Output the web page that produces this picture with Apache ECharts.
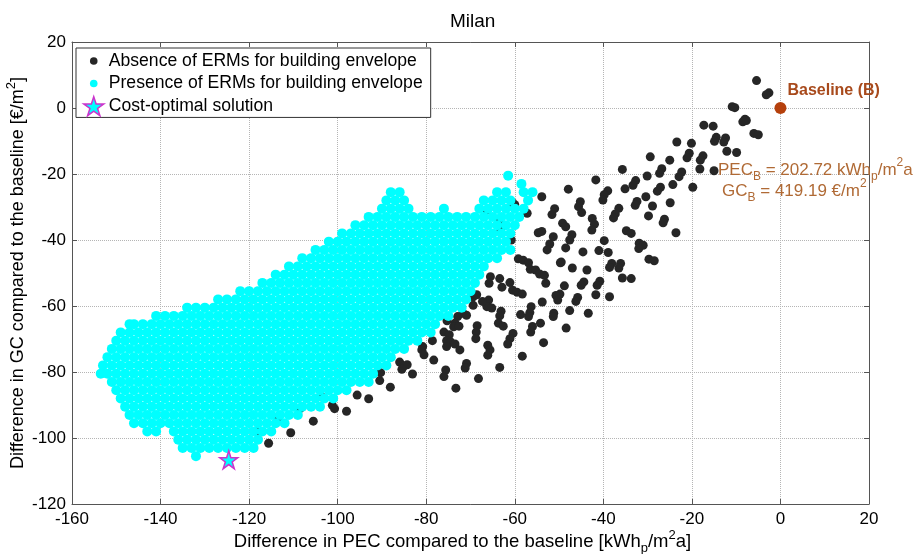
<!DOCTYPE html>
<html><head><meta charset="utf-8">
<script src="https://cdn.jsdelivr.net/npm/echarts@6/dist/echarts.min.js"></script>
<style>html,body{margin:0;padding:0;background:#fff}#c{width:917px;height:554px}</style>
</head><body><div id="c"></div>
<script>
// ---- data ----
const titleText = 'Milan';
const xTickMin = -160, xTickMax = 20, xTickStep = 20;
const yTickMin = -120, yTickMax = 20, yTickStep = 20;

const absencePoints = [
[-5.4,8.3],[-2.6,4.6],[-3.2,4.0],[-10.9,0.4],[-10.3,0.1],[-8.0,-3.4],[-8.5,-4.2],[-7.7,-3.8],[-6.0,-7.7],[-5.0,-8.1],
[-17.3,-5.2],[-15.2,-5.5],[-23.4,-10.3],[-20.1,-10.7],[-14.5,-8.9],[-14.9,-10.1],[-12.4,-9.1],[-12.8,-10.3],[-12.1,-13.1],[-9.9,-13.5],
[-20.6,-13.7],[-21.1,-15.1],[-17.5,-14.5],[-18.1,-15.8],[-29.4,-14.8],[-25.0,-15.8],[-18.2,-18.5],[-15.0,-19.0],[-35.7,-18.6],[-26.8,-18.4],
[-27.3,-19.8],[-30.1,-20.6],[-22.3,-19.4],[-22.9,-20.8],[-32.7,-22.0],[-33.3,-23.4],[-35.1,-24.5],[-24.3,-23.2],[-19.8,-24.0],[-27.1,-24.0],
[-27.8,-25.2],[-39.0,-25.1],[-39.8,-26.3],[-40.1,-27.9],[-30.4,-26.9],[-32.4,-28.3],[-32.8,-29.5],[-28.9,-29.7],[-24.9,-28.7],[-36.5,-30.4],
[-37.3,-32.1],[-37.7,-33.3],[-29.8,-32.7],[-26.2,-33.7],[-26.5,-34.8],[-34.8,-37.2],[-33.7,-38.0],[-23.6,-37.8],[-31.9,-41.0],[-31.0,-41.6],
[-32.0,-42.6],[-39.8,-40.2],
[-41.7,-21.8],[-47.9,-24.6],[-45.2,-28.4],[-45.6,-29.9],[-44.9,-31.7],[-42.5,-33.5],[-42.0,-35.2],[-42.6,-37.0],[-49.2,-34.9],[-48.5,-36.0],
[-47.1,-38.4],[-47.6,-40.0],[-48.5,-42.4],[-44.6,-43.6],[-41.0,-43.2],[-38.9,-43.8],[-29.7,-45.8],[-28.5,-46.3],[-49.5,-46.7],[-38.1,-47.1],
[-38.6,-48.3],[-36.1,-47.1],[-36.5,-48.5],[-47.0,-48.5],[-43.7,-49.1],[-35.7,-51.5],[-33.7,-51.7],[-40.8,-52.5],[-41.4,-53.7],[-44.4,-52.7],
[-45.0,-53.7],[-48.8,-53.9],[-41.7,-56.6],[-38.6,-57.2],[-45.8,-57.4],[-46.2,-58.6],[-49.8,-56.4],[-47.6,-61.4],[-43.4,-62.2],
[-53.9,-26.9],[-51.0,-30.5],[-51.6,-32.3],[-57.2,-31.9],[-54.7,-37.8],[-53.9,-37.4],[-51.3,-39.0],[-52.1,-41.2],[-52.7,-43.0],[-60.8,-40.0],
[-59.2,-45.7],[-58.1,-46.1],[-56.9,-46.9],[-56.5,-48.9],[-55.3,-49.1],[-54.4,-50.3],[-53.3,-50.7],[-49.7,-46.9],[-53.0,-53.1],[-65.5,-51.1],
[-65.8,-53.1],[-63.4,-51.7],[-62.9,-54.3],[-61.1,-52.9],[-60.5,-55.2],[-59.5,-55.8],[-58.3,-56.4],[-69.4,-57.2],[-68.6,-56.6],[-65.9,-58.2],
[-66.3,-60.2],[-65.2,-60.6],[-63.1,-61.6],[-63.4,-63.0],[-63.7,-65.2],[-58.7,-62.6],[-56.3,-60.2],[-56.6,-62.0],[-56.9,-63.2],[-53.8,-58.8],
[-50.7,-56.8],[-50.3,-58.2],[-51.2,-62.2],[-51.3,-63.2],[-71.7,-62.2],[-70.9,-62.8],[-72.9,-63.2],[-73.5,-65.2],[-73.8,-66.3],[-75.3,-64.5],
[-68.5,-66.0],[-62.6,-66.1],[-54.2,-65.2],[-48.4,-66.7],[-66.3,-30.9],[-63.4,-33.9],[-63.2,-36.8],[-60.5,-28.7],[-60.0,-29.3],[-69.4,-59.8],
[-67.3,-58.6],[-56.0,-66.2],[-56.4,-67.9],[-60.4,-68.3],[-61.1,-69.9],[-61.6,-71.5],[-53.5,-71.1],[-58.3,-75.2],[-63.4,-78.6],[-66.1,-71.9],
[-65.6,-73.3],[-66.1,-74.9],[-68.2,-82.0],
[-72.6,-66.1],[-76.0,-67.9],[-74.8,-68.7],[-75.4,-70.5],[-74.5,-70.9],[-75.4,-72.3],[-68.7,-67.9],[-68.8,-69.9],[-78.6,-70.5],[-73.5,-71.5],
[-72.4,-73.3],[-80.8,-72.3],[-81.0,-73.3],[-80.5,-74.8],[-78.3,-76.4],[-70.9,-77.4],[-71.2,-78.8],[-75.6,-79.4],[-76.0,-81.4],[-73.3,-84.9],
[-86.0,-77.0],[-85.1,-78.2],[-84.3,-77.8],[-85.5,-79.2],[-83.1,-80.6],[-90.5,-82.6],[-88.1,-84.6],[-93.0,-88.1],[-95.6,-87.0],[-98.0,-91.9],
[-100.7,-91.1],[-105.5,-94.9],[-90.3,-80.2],[-101.2,-90.1],[-110.6,-98.4],[-115.6,-101.6],[-118.5,-98.0],[-113.5,-94.8],[-108.5,-91.1],[-103.4,-87.7]
];

// Presence of ERMs: rows of the dense cloud, [y, list of x values]
const presenceRows = [
[-105.5,[-132]],
[-103,[-135,-133,-131,-129,-127,-125,-123,-121,-119]],
[-100.5,[-136,-134,-132,-130,-128,-126,-124,-122,-120,-118]],
[-98,[-143,-141,-137,-135,-133,-131,-129,-127,-125,-123,-121,-119,-117,-115]],
[-95.5,[-146,-144,-142,-140,-138,-136,-134,-132,-130,-128,-126,-124,-122,-120,-118,-116,-114,-112]],
[-93,[-147,-145,-143,-141,-139,-137,-135,-133,-131,-129,-127,-125,-123,-121,-119,-117,-115,-113,-111,-109]],
[-90.5,[-148,-146,-144,-142,-140,-138,-136,-134,-132,-130,-128,-126,-124,-122,-120,-118,-116,-114,-112,-110,-108,-106,-104]],
[-88,[-149,-147,-145,-143,-141,-139,-137,-135,-133,-131,-129,-127,-125,-123,-121,-119,-117,-115,-113,-111,-109,-107,-105,-103,-101]],
[-85.5,[-150,-148,-146,-144,-142,-140,-138,-136,-134,-132,-130,-128,-126,-124,-122,-120,-118,-116,-114,-112,-110,-108,-106,-104,-102,-100,-98]],
[-83,[-151,-149,-147,-145,-143,-141,-139,-137,-135,-133,-131,-129,-127,-125,-123,-121,-119,-117,-115,-113,-111,-109,-107,-105,-103,-101,-99,-97,-95,-93]],
[-80.5,[-153.5,-152,-150,-148,-146,-144,-142,-140,-138,-136,-134,-132,-130,-128,-126,-124,-122,-120,-118,-116,-114,-112,-110,-108,-106,-104,-102,-100,-98,-96,-94,-92]],
[-78,[-153,-151,-149,-147,-145,-143,-141,-139,-137,-135,-133,-131,-129,-127,-125,-123,-121,-119,-117,-115,-113,-111,-109,-107,-105,-103,-101,-99,-97,-95,-93,-91,-89]],
[-75.5,[-152,-150,-148,-146,-144,-142,-140,-138,-136,-134,-132,-130,-128,-126,-124,-122,-120,-118,-116,-114,-112,-110,-108,-106,-104,-102,-100,-98,-96,-94,-92,-90,-88]],
[-73,[-151,-149,-147,-145,-143,-141,-139,-137,-135,-133,-131,-129,-127,-125,-123,-121,-119,-117,-115,-113,-111,-109,-107,-105,-103,-101,-99,-97,-95,-93,-91,-89,-87,-85]],
[-70.5,[-150,-148,-146,-144,-142,-140,-138,-136,-134,-132,-130,-128,-126,-124,-122,-120,-118,-116,-114,-112,-110,-108,-106,-104,-102,-100,-98,-96,-94,-92,-90,-88,-86,-84,-82]],
[-68,[-149,-147,-145,-143,-141,-139,-137,-135,-133,-131,-129,-127,-125,-123,-121,-119,-117,-115,-113,-111,-109,-107,-105,-103,-101,-99,-97,-95,-93,-91,-89,-87,-85,-83,-81,-79]],
[-65.5,[-147,-146,-144,-142,-140,-138,-136,-134,-132,-130,-128,-126,-124,-122,-120,-118,-116,-114,-112,-110,-108,-106,-104,-102,-100,-98,-96,-94,-92,-90,-88,-86,-84,-82,-80,-78]],
[-63,[-141,-139,-137,-135,-133,-131,-129,-127,-125,-123,-121,-119,-117,-115,-113,-111,-109,-107,-105,-103,-101,-99,-97,-95,-93,-91,-89,-87,-85,-83,-81,-79,-77,-75]],
[-60.5,[-134,-132,-130,-128,-126,-124,-122,-120,-118,-116,-114,-112,-110,-108,-106,-104,-102,-100,-98,-96,-94,-92,-90,-88,-86,-84,-82,-80,-78,-76,-74,-72]],
[-58,[-127,-125,-123,-121,-119,-117,-115,-113,-111,-109,-107,-105,-103,-101,-99,-97,-95,-93,-91,-89,-87,-85,-83,-81,-79,-77,-75,-73,-71]],
[-55.5,[-122,-120,-118,-116,-114,-112,-110,-108,-106,-104,-102,-100,-98,-96,-94,-92,-90,-88,-86,-84,-82,-80,-78,-76,-74,-72,-70]],
[-53,[-117,-115,-113,-111,-109,-107,-105,-103,-101,-99,-97,-95,-93,-91,-89,-87,-85,-83,-81,-79,-77,-75,-73,-71,-69]],
[-50.5,[-114,-112,-110,-108,-106,-104,-102,-100,-98,-96,-94,-92,-90,-88,-86,-84,-82,-80,-78,-76,-74,-72,-70,-68]],
[-48,[-111,-109,-107,-105,-103,-101,-99,-97,-95,-93,-91,-89,-87,-85,-83,-81,-79,-77,-75,-73,-71,-69,-67]],
[-45.5,[-108,-106,-104,-102,-100,-98,-96,-94,-92,-90,-88,-86,-84,-82,-80,-78,-76,-74,-72,-70,-68,-66,-64]],
[-43,[-105,-103,-101,-99,-97,-95,-93,-91,-89,-87,-85,-83,-81,-79,-77,-75,-73,-71,-69,-67,-65,-63,-61]],
[-40.5,[-102,-100,-98,-96,-94,-92,-90,-88,-86,-84,-82,-80,-78,-76,-74,-72,-70,-68,-66,-64,-62]],
[-38,[-99,-97,-95,-93,-91,-89,-87,-85,-83,-81,-79,-77,-75,-73,-71,-69,-67,-65,-63,-61]],
[-35.5,[-96,-94,-92,-90,-88,-86,-84,-82,-80,-78,-76,-74,-72,-70,-68,-66,-64,-62,-60]],
[-33,[-93,-91,-89,-87,-85,-83,-81,-79,-77,-75,-73,-71,-69,-67,-65,-63,-61,-59]],
[-30.5,[-90,-88,-86,-84,-76,-68,-66,-64,-62,-60,-58]],
[-28,[-89,-87,-85,-67,-65,-63,-61,-57]],
[-25.5,[-88,-86,-64,-62,-58,-56]],
[-23,[-58.5]],
[-20.5,[-61.5]]
];

const costOptimalPoint = [[-124.6,-106.6]];
const baselinePoint = [[0,0]];
const seriesNames = ['Absence of ERMs for building envelope','Presence of ERMs for building envelope','Cost-optimal solution'];

// ---- build ----
const presencePoints = [];
presenceRows.forEach(function (r) { r[1].forEach(function (x) { presencePoints.push([x, r[0]]); }); });

const FONT = "'Liberation Sans', Arial, Helvetica, sans-serif";
const STAR = 'path://M50,2 L61.2,36.3 L97.5,36.3 L68.2,57.6 L79.4,91.9 L50,70.7 L20.6,91.9 L31.8,57.6 L2.5,36.3 L38.8,36.3 Z';
// small dot inside a 20x20 box (the two leading moves only set the icon box)
const DOT = 'path://M0,0 M20,20 M10,6.2 A3.8,3.8 0 1 1 10,13.8 A3.8,3.8 0 1 1 10,6.2 Z';
const AXC = '#555555';

const richLabel = function (size) {
  return {
    n: {fontSize: size, lineHeight: 26, verticalAlign: 'middle', fontFamily: FONT, color: '#000'},
    s: {fontSize: Math.round(size * 0.7), lineHeight: 12, verticalAlign: 'bottom', fontFamily: FONT, color: '#000'},
    u: {fontSize: Math.round(size * 0.7), lineHeight: 12, verticalAlign: 'top', fontFamily: FONT, color: '#000'}
  };
};

function mainAxis(min, max, step, pos, name, gap, margin, nameSize, namePad) {
  return {
    type: 'value', min: min, max: max, interval: step, position: pos,
    name: name, nameLocation: 'middle', nameGap: gap, nameMoveOverlap: false,
    nameTextStyle: {fontSize: nameSize, fontFamily: FONT, color: '#000', rich: richLabel(nameSize), padding: namePad},
    axisLine: {show: true, onZero: false, lineStyle: {color: AXC, width: 1}},
    axisTick: {show: true, inside: true, length: 5, lineStyle: {color: AXC}},
    axisLabel: {fontSize: 17, color: '#000', fontFamily: FONT, margin: margin},
    splitLine: {show: true, lineStyle: {type: 'dotted', color: '#b5b5b5', width: 1}}
  };
}
function mirrorAxis(min, max, step, pos) {
  return {
    type: 'value', min: min, max: max, interval: step, position: pos,
    axisLine: {show: true, onZero: false, lineStyle: {color: AXC, width: 1}},
    axisTick: {show: true, inside: true, length: 5, lineStyle: {color: AXC}},
    axisLabel: {show: false}, splitLine: {show: false}
  };
}

const chart = echarts.init(document.getElementById('c'));
chart.setOption({
  animation: false,
  backgroundColor: '#ffffff',
  title: {text: titleText, left: 445, top: 7, textStyle: {fontSize: 19, fontWeight: 'normal', color: '#000', fontFamily: FONT}},
  grid: {left: 72, right: 48, top: 42, bottom: 50, containLabel: false, outerBoundsMode: 'none'},
  xAxis: [
    mainAxis(xTickMin, xTickMax, xTickStep, 'bottom', '{n|Difference in PEC compared to the baseline [kWh}{s|p}{n|/m}{u|2}{n|a]}', 25, 7, 18.5, [0, 16, 0, 0]),
    mirrorAxis(xTickMin, xTickMax, xTickStep, 'top')
  ],
  yAxis: [
    mainAxis(yTickMin, yTickMax, yTickStep, 'left', '{n|Difference in GC compared to the baseline [€/m}{u|2}{n|]}', 41, 6, 18, 0),
    mirrorAxis(yTickMin, yTickMax, yTickStep, 'right')
  ],
  legend: {
    left: 76, top: 48, orient: 'vertical',
    itemWidth: 20, itemHeight: 20, itemGap: 2.5,
    padding: [3, 8, 1, 7],
    borderColor: '#333', borderWidth: 1, backgroundColor: '#fff',
    textStyle: {fontSize: 17.6, color: '#000', fontFamily: FONT},
    data: [
      {name: seriesNames[0], icon: DOT, itemStyle: {color: '#262626', borderWidth: 0}},
      {name: seriesNames[1], icon: DOT, itemStyle: {color: '#00ffff', borderWidth: 0}},
      {name: seriesNames[2], icon: STAR, itemStyle: {color: '#00ffff', borderColor: '#cc33cc', borderWidth: 1.5}}
    ]
  },
  series: [
    {name: seriesNames[0], type: 'scatter', data: absencePoints, symbolSize: 9, z: 2,
     itemStyle: {color: '#262626', opacity: 1}},
    {name: seriesNames[1], type: 'scatter', data: presencePoints, symbolSize: 10, z: 3,
     itemStyle: {color: '#00ffff', opacity: 1}},
    {name: seriesNames[2], type: 'scatter', data: costOptimalPoint, symbol: STAR, symbolSize: 18, z: 4,
     itemStyle: {color: '#00ffff', borderColor: '#cc33cc', borderWidth: 1.5, opacity: 1}},
    {name: 'Baseline (B)', type: 'scatter', data: baselinePoint, symbolSize: 12, z: 5,
     itemStyle: {color: '#b5400c', opacity: 1},
     label: {show: true, formatter: 'Baseline (B)', position: [13, -11], align: 'left', verticalAlign: 'middle',
             fontSize: 16, fontWeight: 'bold', color: '#a84a1c', fontFamily: FONT}}
  ],
  graphic: [
    {type: 'text', left: 718, top: 157, z: 10,
     style: {text: '{n|PEC}{s|B}{n| = 202.72 kWh}{s|p}{n|/m}{u|2}{n|a}',
             rich: {
               n: {fontSize: 17, lineHeight: 26, verticalAlign: 'middle', fontFamily: FONT, fill: '#b06a35'},
               s: {fontSize: 12, lineHeight: 12, verticalAlign: 'bottom', fontFamily: FONT, fill: '#b06a35'},
               u: {fontSize: 12, lineHeight: 12, verticalAlign: 'top', fontFamily: FONT, fill: '#b06a35'}
             }}},
    {type: 'text', left: 722, top: 178, z: 10,
     style: {text: '{n|GC}{s|B}{n| = 419.19 €/m}{u|2}',
             rich: {
               n: {fontSize: 17, lineHeight: 26, verticalAlign: 'middle', fontFamily: FONT, fill: '#b06a35'},
               s: {fontSize: 12, lineHeight: 12, verticalAlign: 'bottom', fontFamily: FONT, fill: '#b06a35'},
               u: {fontSize: 12, lineHeight: 12, verticalAlign: 'top', fontFamily: FONT, fill: '#b06a35'}
             }}}
  ]
});
</script>
</body></html>
